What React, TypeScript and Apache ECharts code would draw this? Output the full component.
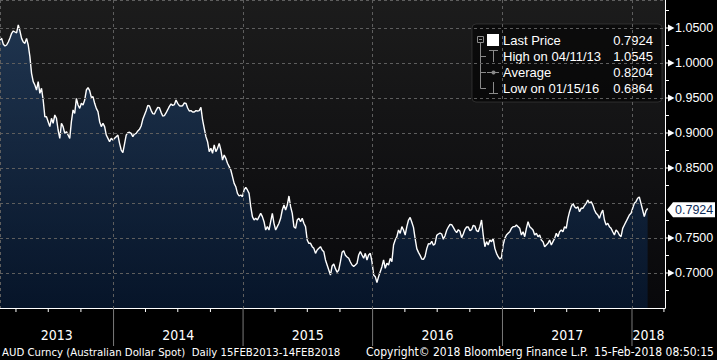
import React, { useEffect, useRef } from 'react';
import * as echarts from 'echarts';

const prices: number[] = [
  1.0329, 1.0352, 1.0267, 1.0243, 1.0257, 1.0300, 1.0357, 1.0424, 1.0457, 1.0443,
  1.0429, 1.0545, 1.0457, 1.0352, 1.0300, 1.0281, 1.0352, 1.0257, 1.0091, 0.9852,
  0.9733, 0.9686, 0.9614, 0.9733, 0.9567, 0.9638, 0.9471, 0.9233, 0.9233, 0.9162,
  0.9091, 0.9210, 0.9138, 0.9257, 0.9210, 0.9043, 0.8924, 0.9138, 0.9091, 0.8995,
  0.9019, 0.8971, 0.8924, 0.9162, 0.9329, 0.9281, 0.9495, 0.9400, 0.9352, 0.9424,
  0.9400, 0.9471, 0.9614, 0.9648, 0.9605, 0.9510, 0.9519, 0.9424, 0.9352, 0.9305,
  0.9162, 0.9091, 0.9138, 0.9091, 0.8971, 0.8924, 0.8876, 0.8924, 0.8900, 0.8924,
  0.8948, 0.8971, 0.8852,
  0.8757, 0.8719, 0.8843, 0.8971, 0.9005, 0.9010, 0.8995, 0.8948, 0.8986, 0.8995,
  0.9029, 0.9052, 0.9100, 0.9195, 0.9257, 0.9319, 0.9395, 0.9386, 0.9324, 0.9276,
  0.9271, 0.9324, 0.9367, 0.9362, 0.9295, 0.9243, 0.9248, 0.9286, 0.9333, 0.9381,
  0.9414, 0.9395, 0.9405, 0.9471, 0.9424, 0.9390, 0.9386, 0.9390, 0.9429, 0.9424,
  0.9357, 0.9314, 0.9319, 0.9300, 0.9300, 0.9319, 0.9314, 0.9319, 0.9367, 0.9186,
  0.9067, 0.8948, 0.8876, 0.8733, 0.8781, 0.8710, 0.8829, 0.8733, 0.8781, 0.8852,
  0.8757, 0.8614, 0.8686, 0.8638, 0.8567, 0.8519, 0.8471, 0.8376, 0.8281, 0.8233,
  0.8138, 0.8100,
  0.8114, 0.8090, 0.8186, 0.8224, 0.8186, 0.8138, 0.7948, 0.7805, 0.7757, 0.7781,
  0.7757, 0.7805, 0.7852, 0.7805, 0.7733, 0.7614, 0.7662, 0.7614, 0.7733, 0.7852,
  0.7710, 0.7614, 0.7662, 0.7710, 0.7781, 0.7900, 0.7971, 0.7900, 0.7971, 0.8100,
  0.7948, 0.7852, 0.7662, 0.7638, 0.7757, 0.7781, 0.7733, 0.7781, 0.7710, 0.7662,
  0.7471, 0.7424, 0.7424, 0.7376, 0.7352, 0.7281, 0.7329, 0.7352, 0.7376, 0.7329,
  0.7305, 0.7186, 0.7114, 0.7043, 0.6971, 0.7100, 0.7129, 0.7062, 0.7010, 0.7043,
  0.7162, 0.7295, 0.7319, 0.7252, 0.7229, 0.7210, 0.7157, 0.7114, 0.7095, 0.7114,
  0.7138, 0.7257,
  0.7305, 0.7257, 0.7210, 0.7281, 0.7186, 0.7257, 0.7281, 0.7162, 0.6971, 0.6948,
  0.6864, 0.6948, 0.7019, 0.7090, 0.7186, 0.7067, 0.7138, 0.7114, 0.7210, 0.7162,
  0.7400, 0.7471, 0.7519, 0.7614, 0.7567, 0.7662, 0.7614, 0.7543, 0.7662, 0.7757,
  0.7795, 0.7724, 0.7652, 0.7490, 0.7348, 0.7295, 0.7252, 0.7200, 0.7195, 0.7238,
  0.7348, 0.7419, 0.7414, 0.7452, 0.7395, 0.7419, 0.7538, 0.7557, 0.7571, 0.7557,
  0.7481, 0.7533, 0.7610, 0.7657, 0.7695, 0.7690, 0.7652, 0.7610, 0.7576, 0.7619,
  0.7595, 0.7505, 0.7557, 0.7624, 0.7657, 0.7657, 0.7605, 0.7619, 0.7681, 0.7671,
  0.7605, 0.7590,
  0.7662, 0.7757, 0.7543, 0.7376, 0.7448, 0.7400, 0.7471, 0.7448, 0.7495, 0.7352,
  0.7281, 0.7233, 0.7200, 0.7219, 0.7400, 0.7495, 0.7543, 0.7567, 0.7590, 0.7638,
  0.7662, 0.7662, 0.7686, 0.7662, 0.7638, 0.7543, 0.7590, 0.7519, 0.7638, 0.7733,
  0.7662, 0.7638, 0.7614, 0.7543, 0.7567, 0.7519, 0.7543, 0.7471, 0.7448, 0.7376,
  0.7400, 0.7424, 0.7471, 0.7400, 0.7448, 0.7495, 0.7567, 0.7519, 0.7590, 0.7614,
  0.7590, 0.7662, 0.7638, 0.7781, 0.7876, 0.7948, 0.7995, 0.7948, 0.7924, 0.7948,
  0.7876, 0.7924, 0.7924, 0.7962, 0.7995, 0.8043, 0.7995, 0.8019, 0.7971, 0.7900,
  0.7852, 0.7829,
  0.7781, 0.7852, 0.7900, 0.7757, 0.7686, 0.7710, 0.7662, 0.7638, 0.7590, 0.7543,
  0.7614, 0.7590, 0.7543, 0.7519, 0.7638, 0.7686, 0.7733, 0.7781, 0.7829, 0.7852,
  0.7924, 0.7995, 0.8019, 0.8067, 0.8086, 0.7995, 0.7900, 0.7805, 0.7886, 0.7924,
];

const startDate = Date.UTC(2013, 1, 15);
const endDate = Date.UTC(2018, 1, 14);
const axisMin = startDate;
const axisMax = Date.UTC(2018, 3, 4);

const yearLabels = ['2013', '2014', '2015', '2016', '2017', '2018'];
const yTicks = [0.7, 0.75, 0.8, 0.85, 0.9, 0.95, 1.0, 1.05];
const legendLabels = ['Last Price', 'High on 04/11/13', 'Average', 'Low on 01/15/16'];
const legendValues = ['0.7924', '1.0545', '0.8204', '0.6864'];
const lastPrice = 0.7924;
const footerLeft = 'AUD Curncy (Australian Dollar Spot)  Daily 15FEB2013-14FEB2018';
const footerMid = 'Copyright\u00A9 2018 Bloomberg Finance L.P.';
const footerRight = '15-Feb-2018 08:50:15';

const Y_MIN = 0.65;
const Y_MAX = 1.09;
const NARROW = "'Liberation Sans Narrow', 'Arial Narrow', 'DejaVu Sans Condensed', sans-serif";
const SANS = "'Liberation Sans', Arial, sans-serif";
const GRID_COLOR = '#5e5e5e';

// labels hidden where the last-price tag sits (as on the terminal)
const nearLast = (v: number) => Math.abs(v - lastPrice) < 0.012;

export default function App() {
  const ref = useRef<HTMLDivElement>(null);

  useEffect(() => {
    if (!ref.current) return;
    const chart = echarts.init(ref.current, undefined, { renderer: 'svg' });
    const step = (endDate - startDate) / (prices.length - 1);
    const lineData = prices.map((v, i) => [startDate + i * step, v]);

    const legendRows = legendLabels.map((label, i) => [
      {
        type: 'text',
        style: { text: label, x: 503, y: 40 + i * 16, verticalAlign: 'middle', fill: '#ffffff', fontSize: 13, fontFamily: SANS },
      },
      {
        type: 'text',
        style: { text: legendValues[i], x: 653, y: 40 + i * 16, align: 'right', verticalAlign: 'middle', fill: '#ffffff', fontSize: 13, fontFamily: SANS },
      },
    ]).flat();

    const iconStroke = '#8a8a8a';

    chart.setOption({
      animation: false,
      backgroundColor: '#000000',
      grid: {
        left: 0,
        top: 0,
        right: 52,
        bottom: 52,
        show: true,
        borderWidth: 0,
        backgroundColor: new echarts.graphic.LinearGradient(0, 0, 0, 1, [
          { offset: 0, color: '#1c1c1c' },
          { offset: 1, color: '#08080b' },
        ]),
      },
      xAxis: {
        type: 'time',
        min: axisMin,
        max: axisMax,
        minInterval: 365 * 86400000,
        maxInterval: 366 * 86400000,
        z: 3,
        axisLine: { show: true, lineStyle: { color: '#ffffff', width: 1 } },
        axisTick: { show: false },
        axisLabel: { show: false },
        splitLine: { show: true, lineStyle: { color: GRID_COLOR, type: [3, 3], width: 1 } },
      },
      yAxis: {
        type: 'value',
        position: 'right',
        min: Y_MIN,
        max: Y_MAX,
        interval: 0.05,
        z: 3,
        axisLine: { show: true, lineStyle: { color: '#ffffff', width: 1 } },
        axisTick: { show: false },
        minorTick: { show: true, splitNumber: 2, length: 4, lineStyle: { color: '#ffffff', width: 1 } },
        axisLabel: {
          color: '#ffffff',
          fontSize: 12.5,
          fontFamily: SANS,
          margin: 10,
          formatter: (v: number) => (v < 0.68 || v > 1.06 || nearLast(v) ? '' : v.toFixed(4)),
        },
        splitLine: { show: true, lineStyle: { color: GRID_COLOR, type: [3, 3], width: 1 } },
      },
      series: [
        {
          type: 'line',
          data: lineData,
          showSymbol: false,
          symbol: 'none',
          z: 2,
          lineStyle: { color: '#ffffff', width: 1.4 },
          areaStyle: {
            origin: 'start',
            color: new echarts.graphic.LinearGradient(0, 0, 0, 1, [
              { offset: 0, color: '#213f64' },
              { offset: 1, color: '#061a36' },
            ]),
          },
        },
        {
          type: 'custom',
          silent: true,
          clip: false,
          z: 4,
          data: yearLabels.map((l, i) => [Date.UTC(Number(l), 0, 1), Date.UTC(Number(l) + 1, 0, 1), i]),
          renderItem: (params: any, api: any) => {
            const s = api.value(0);
            const e = api.value(1);
            const idx = api.value(2);
            const a = Math.max(s, axisMin);
            const b = Math.min(e, axisMax);
            const pa = api.coord([a, Y_MIN]);
            const pb = api.coord([b, Y_MIN]);
            const children: any[] = [];
            if (s > axisMin) {
              children.push({
                type: 'line',
                shape: { x1: pa[0], y1: pa[1], x2: pa[0], y2: pa[1] + 38 },
                style: { stroke: '#7a7a7a', lineWidth: 1 },
              });
            }
            const y = new Date(s).getUTCFullYear();
            [3, 6, 9].forEach((m) => {
              const d = Date.UTC(y, m, 1);
              if (d > axisMin && d < axisMax) {
                const p = api.coord([d, Y_MIN]);
                children.push({
                  type: 'line',
                  shape: { x1: p[0], y1: p[1], x2: p[0], y2: p[1] + 4 },
                  style: { stroke: '#ffffff', lineWidth: 1 },
                });
              }
            });
            children.push({
              type: 'text',
              style: {
                text: yearLabels[idx],
                x: (pa[0] + pb[0]) / 2,
                y: pa[1] + 27,
                align: 'center',
                verticalAlign: 'middle',
                fill: '#ffffff',
                fontSize: 14,
                fontFamily: NARROW,
              },
            });
            return { type: 'group', children };
          },
        },
        {
          type: 'custom',
          silent: true,
          clip: false,
          z: 4,
          data: yTicks.filter((v) => !nearLast(v)).map((v) => [axisMax, v]),
          renderItem: (params: any, api: any) => {
            const p = api.coord([api.value(0), api.value(1)]);
            return {
              type: 'group',
              children: [
                { type: 'line', shape: { x1: p[0], y1: p[1], x2: p[0] + 4, y2: p[1] }, style: { stroke: '#ffffff', lineWidth: 1 } },
                {
                  type: 'polygon',
                  shape: { points: [[p[0] + 3, p[1] - 3.5], [p[0] + 9.5, p[1]], [p[0] + 3, p[1] + 3.5]] },
                  style: { fill: '#ffffff' },
                },
              ],
            };
          },
        },
        {
          type: 'custom',
          silent: true,
          clip: false,
          z: 5,
          data: [[axisMax, lastPrice]],
          renderItem: (params: any, api: any) => {
            const p = api.coord([api.value(0), api.value(1)]);
            const cy = p[1] + 1.5;
            return {
              type: 'group',
              children: [
                {
                  type: 'polygon',
                  shape: {
                    points: [
                      [p[0] + 2, cy],
                      [p[0] + 8, cy - 7.5],
                      [p[0] + 50, cy - 7.5],
                      [p[0] + 50, cy + 7.5],
                      [p[0] + 8, cy + 7.5],
                    ],
                  },
                  style: { fill: '#ffffff' },
                },
                {
                  type: 'text',
                  style: {
                    text: lastPrice.toFixed(4),
                    x: p[0] + 10,
                    y: cy,
                    verticalAlign: 'middle',
                    fill: '#0d2b57',
                    fontSize: 12.5,
                    fontFamily: SANS,
                  },
                },
              ],
            };
          },
        },
      ],
      graphic: [
        {
          type: 'group',
          z: 20,
          children: [
            {
              type: 'rect',
              shape: { x: 472, y: 24, width: 190, height: 78, r: 4 },
              style: { fill: 'rgba(0,0,0,0.55)', stroke: 'rgba(70,70,70,0.55)', lineWidth: 1 },
            },
            { type: 'rect', shape: { x: 477.5, y: 36.5, width: 6, height: 6 }, style: { fill: 'none', stroke: iconStroke, lineWidth: 1 } },
            { type: 'line', shape: { x1: 479, y1: 39.5, x2: 482, y2: 39.5 }, style: { stroke: iconStroke, lineWidth: 1 } },
            { type: 'rect', shape: { x: 487, y: 34, width: 12, height: 12 }, style: { fill: '#ffffff' } },
            { type: 'line', shape: { x1: 480.5, y1: 43, x2: 480.5, y2: 88.5 }, style: { stroke: iconStroke, lineWidth: 1 } },
            { type: 'line', shape: { x1: 480.5, y1: 56.5, x2: 486, y2: 56.5 }, style: { stroke: iconStroke, lineWidth: 1 } },
            { type: 'line', shape: { x1: 480.5, y1: 72.5, x2: 486, y2: 72.5 }, style: { stroke: iconStroke, lineWidth: 1 } },
            { type: 'line', shape: { x1: 480.5, y1: 88.5, x2: 486, y2: 88.5 }, style: { stroke: iconStroke, lineWidth: 1 } },
            { type: 'line', shape: { x1: 493.5, y1: 50, x2: 493.5, y2: 62 }, style: { stroke: iconStroke, lineWidth: 1 } },
            { type: 'line', shape: { x1: 489, y1: 50.5, x2: 498, y2: 50.5 }, style: { stroke: iconStroke, lineWidth: 1 } },
            { type: 'line', shape: { x1: 487, y1: 72.5, x2: 499, y2: 72.5 }, style: { stroke: iconStroke, lineWidth: 1 } },
            { type: 'circle', shape: { cx: 493.5, cy: 72.5, r: 2 }, style: { fill: iconStroke } },
            { type: 'line', shape: { x1: 493.5, y1: 82, x2: 493.5, y2: 94 }, style: { stroke: iconStroke, lineWidth: 1 } },
            { type: 'line', shape: { x1: 489, y1: 93.5, x2: 498, y2: 93.5 }, style: { stroke: iconStroke, lineWidth: 1 } },
            ...legendRows,
          ],
        },
        {
          type: 'text',
          z: 20,
          style: { text: footerLeft, x: 2, y: 352, verticalAlign: 'middle', fill: '#ffffff', fontSize: 11.3, fontFamily: NARROW },
        },
        {
          type: 'text',
          z: 20,
          style: { text: footerMid, x: 366, y: 352, verticalAlign: 'middle', fill: '#ffffff', fontSize: 12, fontFamily: NARROW },
        },
        {
          type: 'text',
          z: 20,
          style: { text: footerRight, x: 714, y: 352, align: 'right', verticalAlign: 'middle', fill: '#ffffff', fontSize: 12, fontFamily: NARROW },
        },
      ],
    });

    return () => chart.dispose();
  }, []);

  return <div ref={ref} style={{ position: 'absolute', left: 0, top: 0, width: 717, height: 360 }} />;
}
